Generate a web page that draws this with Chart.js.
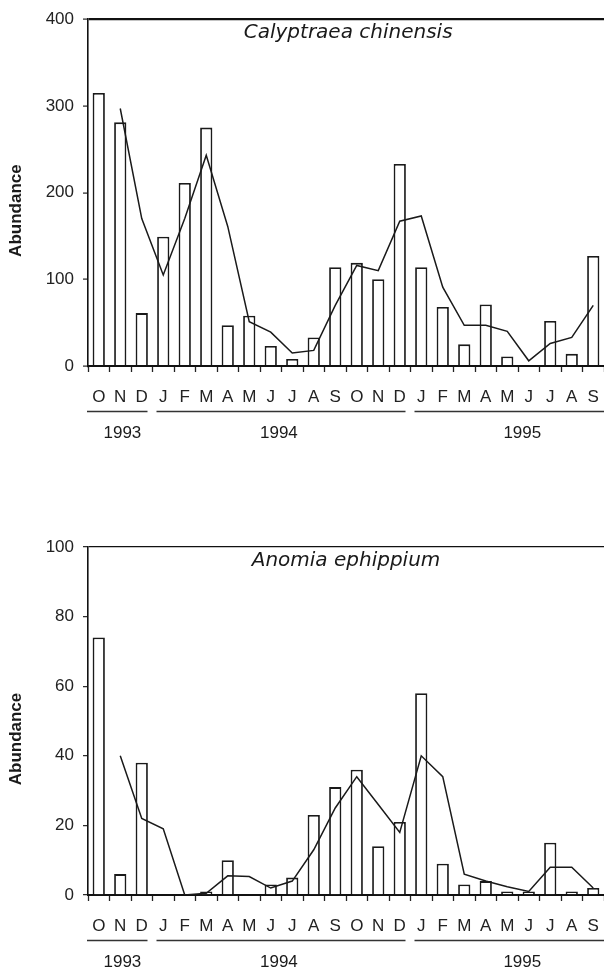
<!DOCTYPE html>
<html lang="en">
<head>
  <meta charset="UTF-8">
  <title>Calyptraea chinensis / Anomia ephippium</title>
  <script src="https://cdn.jsdelivr.net/npm/chart.js"></script>
  <style>
    html, body { margin: 0; padding: 0; background: #fff; }
    canvas { display: block; }
  </style>
</head>
<body>
  <canvas id="topChart" width="604" height="485"></canvas>
  <canvas id="bottomChart" width="604" height="485"></canvas>
  <script>
    // Oct 1993 - Sep 1995, monthly
    const months = ['O','N','D','J','F','M','A','M','J','J','A','S','O','N','D','J','F','M','A','M','J','J','A','S'];
    const years = ['1993', '1994', '1995'];
    const yearSpans = [[0, 2], [3, 14], [15, 23]];

    const calyptraeaBars = [315, 281, 61, 149, 211, 275, 47, 58, 23, 8, 33, 114, 119, 100, 233, 114, 68, 25, 71, 11, 0, 52, 14, 127];
    const calyptraeaLine = [null, 297, 170, 105, 170, 243, 161, 51, 39, 15, 18, 70, 116, 110, 167, 173, 91, 47, 47, 40, 6, 26, 33, 70];

    const anomiaBars = [74, 6, 38, 0, 0, 1, 10, 0, 3, 5, 23, 31, 36, 14, 21, 58, 9, 3, 4, 1, 1, 15, 1, 2];
    const anomiaLine = [null, 40, 22, 19, 0, 0.5, 5.5, 5.3, 2, 4, 13, 25, 34, 26, 18, 40, 34, 6, 4, 2.4, 1, 8, 8, 2];

    Chart.defaults.font.family = '"Liberation Sans", Arial, sans-serif';
    Chart.defaults.color = '#222';

    // species name, y title, year bars and year labels
    const panelDecor = {
      id: 'panelDecor',
      afterDraw(chart, args, opts) {
        const { ctx, chartArea, scales: { x } } = chart;
        ctx.save();
        ctx.fillStyle = '#1a1a1a';
        ctx.textAlign = 'center';
        ctx.textBaseline = 'middle';

        ctx.font = 'oblique 20px "DejaVu Sans"';
        ctx.fillText(opts.species, x.getPixelForValue(opts.speciesAt), chartArea.top + 14);

        ctx.save();
        ctx.translate(16, (chartArea.top + chartArea.bottom) / 2 + 18);
        ctx.rotate(-Math.PI / 2);
        ctx.font = 'bold 17px "Liberation Sans", Arial';
        ctx.fillText('Abundance', 0, 0);
        ctx.restore();

        const half = (x.getPixelForValue(1) - x.getPixelForValue(0)) / 2;
        const lineY = chartArea.bottom + 45.5;
        ctx.strokeStyle = '#333';
        ctx.lineWidth = 1.6;
        yearSpans.forEach(([a, b], i) => {
          const x0 = x.getPixelForValue(a) - half + (i === 0 ? -1 : 4);
          const x1 = x.getPixelForValue(b) + half - (i === yearSpans.length - 1 ? 0 : 5);
          ctx.beginPath();
          ctx.moveTo(x0, lineY);
          ctx.lineTo(x1, lineY);
          ctx.stroke();
        });

        ctx.font = '17px "Liberation Sans", Arial';
        years.forEach((yr, i) => {
          ctx.fillText(yr, x.getPixelForValue(opts.yearAt[i]), chartArea.bottom + 67);
        });
        ctx.restore();
      }
    };

    function makePanel(id, bars, line, max, step, cfg) {
      return new Chart(document.getElementById(id), {
        type: 'bar',
        data: {
          labels: months,
          datasets: [
            {
              type: 'line',
              data: line,
              borderColor: '#1a1a1a',
              borderWidth: 1.5,
              pointRadius: 0,
              tension: 0,
              order: 0
            },
            {
              data: bars,
              backgroundColor: '#fff',
              borderColor: '#1a1a1a',
              borderWidth: 1.8,
              barPercentage: 0.57,
              categoryPercentage: 1.0,
              order: 1
            }
          ]
        },
        options: {
          responsive: false,
          animation: false,
          devicePixelRatio: 1,
          layout: { padding: { top: cfg.top, right: 0, left: 0, bottom: 0 } },
          plugins: {
            legend: { display: false },
            tooltip: { enabled: false },
            panelDecor: { species: cfg.species, speciesAt: cfg.speciesAt, yearAt: cfg.yearAt }
          },
          scales: {
            x: {
              ticks: { font: { size: 17, lineHeight: 2.75 }, padding: 2, autoSkip: false, maxRotation: 0 },
              grid: { offset: true, drawOnChartArea: false, tickLength: 6, tickColor: '#222', tickWidth: 1.3 },
              border: { color: '#111', width: 2 },
              afterFit(scale) { scale.height = cfg.xHeight; }
            },
            y: {
              min: 0,
              max: max,
              ticks: { stepSize: step, font: { size: 17 }, padding: 9 },
              grid: {
                color: c => (c.tick && c.tick.value === max) ? '#111' : 'rgba(0,0,0,0)',
                lineWidth: cfg.topLine,
                tickLength: 5,
                tickColor: '#222',
                tickWidth: 1.2
              },
              border: { color: '#111', width: 1.6 },
              afterFit(scale) { scale.width = 88; }
            }
          }
        },
        plugins: [panelDecor]
      });
    }

    makePanel('topChart', calyptraeaBars, calyptraeaLine, 400, 100, {
      top: 19, xHeight: 119, topLine: 2.2,
      species: 'Calyptraea chinensis', speciesAt: 11.6, yearAt: [1.1, 8.38, 19.7]
    });
    makePanel('bottomChart', anomiaBars, anomiaLine, 100, 20, {
      top: 62, xHeight: 75, topLine: 1.3,
      species: 'Anomia ephippium', speciesAt: 11.5, yearAt: [1.1, 8.38, 19.7]
    });
  </script>
</body>
</html>
